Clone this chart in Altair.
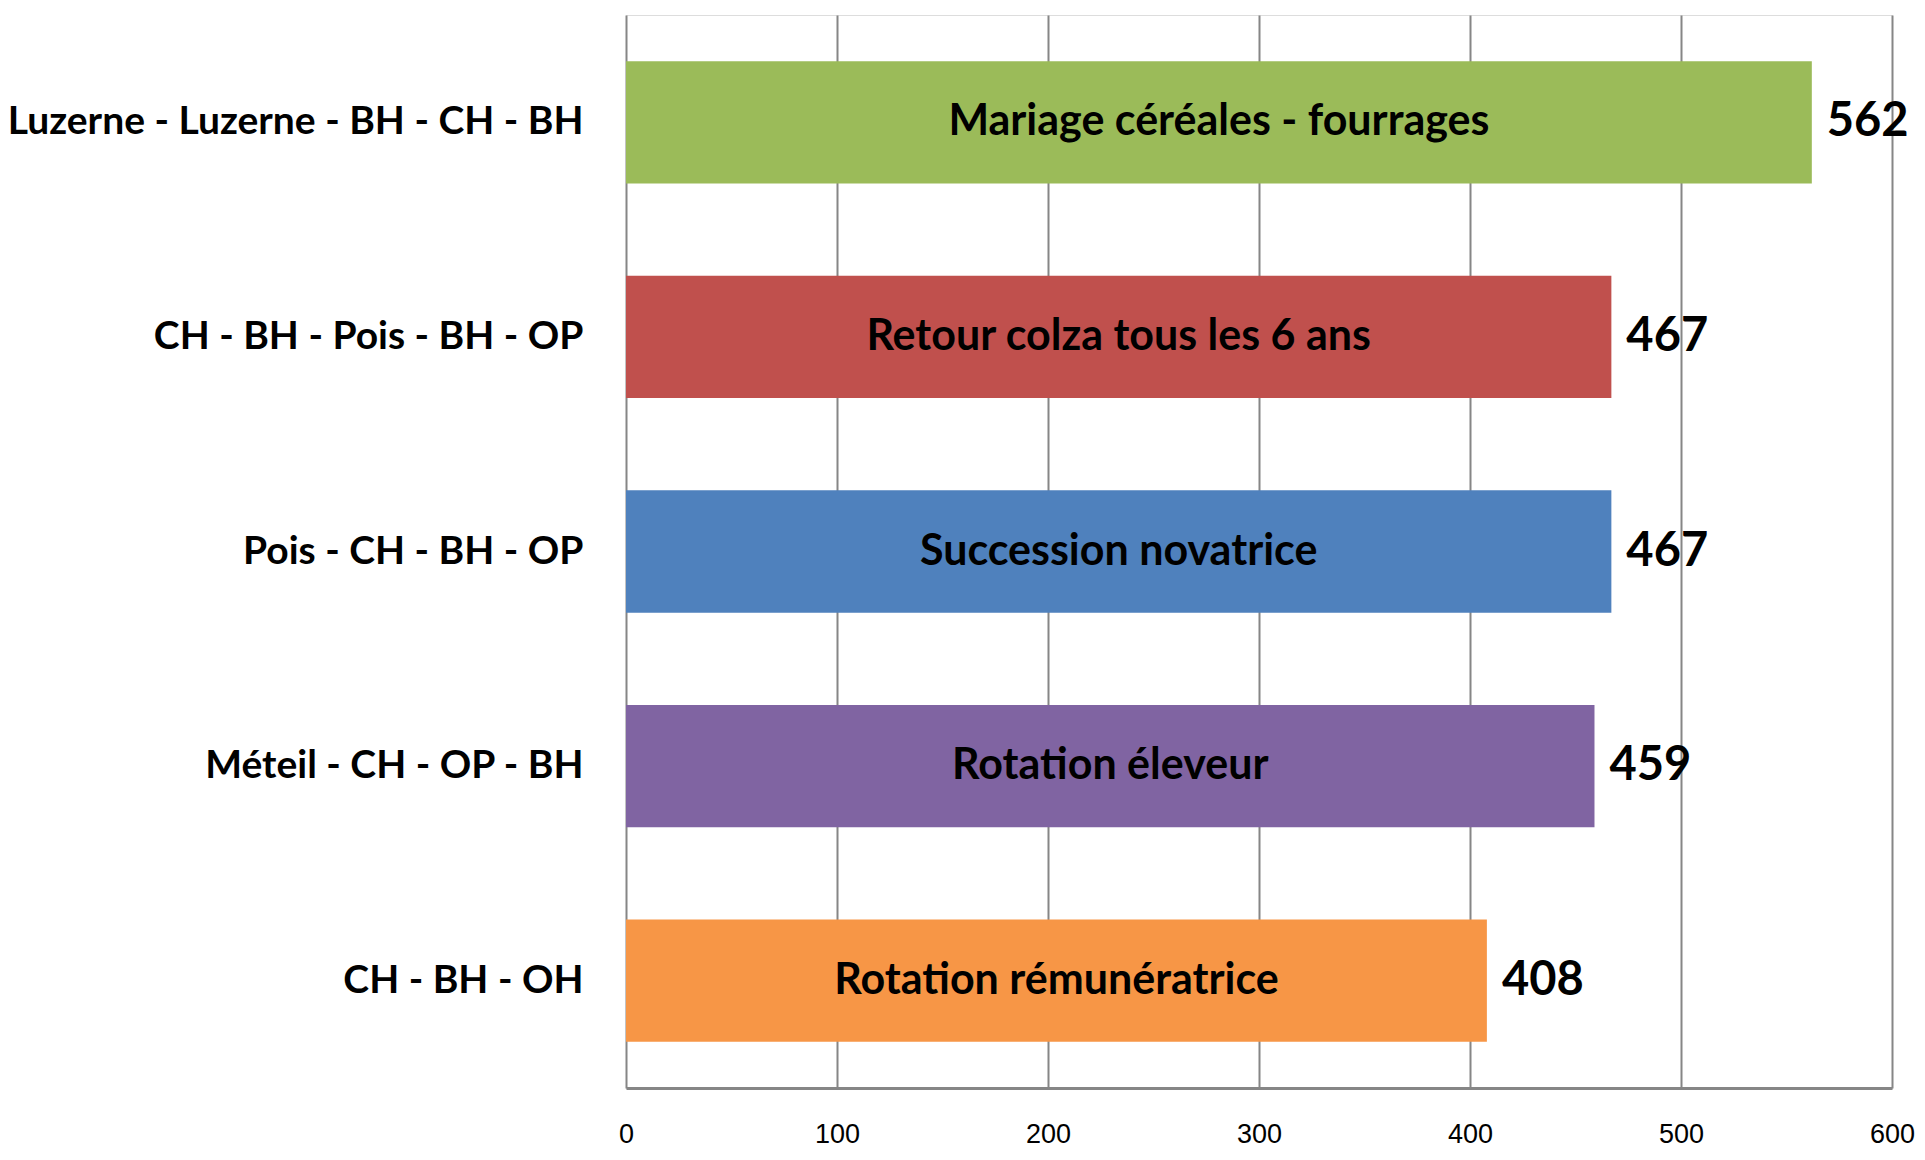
import altair as alt
import pandas as pd

rotations = [
    "Luzerne - Luzerne - BH - CH - BH",
    "CH - BH - Pois - BH - OP",
    "Pois - CH - BH - OP",
    "Méteil - CH - OP - BH",
    "CH - BH - OH ",
]
names = [
    "Mariage céréales - fourrages",
    "Retour colza tous les 6 ans",
    "Succession novatrice",
    "Rotation éleveur",
    "Rotation rémunératrice",
]
values = [562, 467, 467, 459, 408]
colors = ["#9BBB59", "#C0504D", "#4F81BD", "#8064A2", "#F79646"]
x_ticks = [0, 100, 200, 300, 400, 500, 600]

df = pd.DataFrame({"rotation": rotations, "name": names, "value": values, "color": colors})

FONT = "Lato"

y_enc = alt.Y(
    "rotation:N",
    sort=rotations,
    scale=alt.Scale(paddingInner=0.43, paddingOuter=0.215),
    axis=alt.Axis(
        title=None,
        ticks=False,
        domain=False,
        labelFont=FONT,
        labelFontWeight="bold",
        labelFontSize=39,
        labelColor="#000000",
        labelPadding=43,
        labelLimit=800,
    ),
)

x_enc = alt.X(
    "value:Q",
    scale=alt.Scale(domain=[0, 600], nice=False),
    axis=alt.Axis(
        title=None,
        values=x_ticks,
        ticks=False,
        grid=True,
        gridColor="#868686",
        gridWidth=2,
        gridOpacity=1,
        domain=True,
        domainColor="#868686",
        domainWidth=3,
        labelFont="Liberation Sans",
        labelFontSize=27,
        labelColor="#000000",
        labelPadding=33,
        labelFlush=False,
        labelOverlap=False,
    ),
)

bars = alt.Chart(df).mark_bar().encode(
    x=x_enc,
    y=y_enc,
    color=alt.Color("color:N", scale=None),
)

inner = alt.Chart(df).mark_text(
    font=FONT, fontWeight="bold", fontSize=43, color="#000000", align="center", baseline="middle"
).encode(
    x=alt.X("half:Q"),
    y=alt.Y("rotation:N", sort=rotations),
    text="name:N",
).transform_calculate(half="datum.value / 2")

nums = alt.Chart(df).mark_text(
    font=FONT, fontWeight="bold", fontSize=47, color="#000000", align="left", baseline="middle", dx=15
).encode(
    x=alt.X("value:Q"),
    y=alt.Y("rotation:N", sort=rotations),
    text="value:Q",
)

chart = alt.layer(bars, inner, nums).properties(
    width=1266,
    height=1073,
    autosize=alt.AutoSizeParams(type="none"),
    padding={"left": 618, "top": 7, "right": 25, "bottom": 64},
).configure_view(stroke=None).configure(background="#ffffff")

chart.save("out.html", embed_options={"renderer": "svg", "actions": False})
